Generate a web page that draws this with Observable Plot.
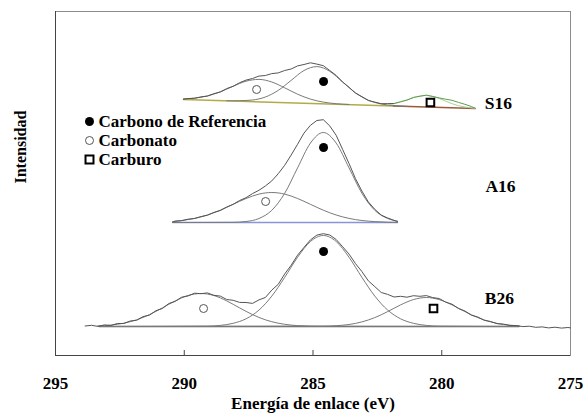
<!DOCTYPE html>
<html><head><meta charset="utf-8">
<script src="https://cdn.jsdelivr.net/npm/d3@7"></script>
<script src="https://cdn.jsdelivr.net/npm/@observablehq/plot@0.6"></script>
<style>body{margin:0;background:#fff}</style>
</head><body><div id="chart"></div>
<script>
// ---- axis / labels ----
const xDomain = [295, 275];
const yDomain = [0, 344];
const xTicks = [295, 290, 285, 280, 275];
const innerTicks = [290, 285, 280];
const xTitle = "Energía de enlace (eV)";
const yTitle = "Intensidad";
const legendLabels = ["Carbono de Referencia", "Carbonato", "Carburo"];
const samples = ["S16", "A16", "B26"];
const sampleLabelAt = [[277.8, 252], [277.72, 169], [277.76, 57]];

// ---- S16 ----
const s16Raw = [[290.03,256.3],[289.85,256.9],[289.6,257.2],[289.35,258.6],[289.1,259.4],[288.85,261.8],[288.6,263.5],[288.35,266.9],[288.1,269.2],[287.85,272.8],[287.6,275.4],[287.35,277.0],[287.1,279.4],[286.85,280.0],[286.6,281.9],[286.35,282.6],[286.1,285.0],[285.85,286.5],[285.6,289.6],[285.35,291.0],[285.1,292.7],[284.85,291.4],[284.6,289.8],[284.35,285.0],[284.1,280.1],[283.85,273.5],[283.6,268.2],[283.35,262.4],[283.1,258.8],[282.85,255.0],[282.6,253.4],[282.35,251.8],[282.1,251.9],[281.85,252.0]];
const s16RawCarbide = [[281.85,252.0],[281.6,253.8],[281.35,255.4],[281.1,258.1],[280.85,259.2],[280.6,260.4],[280.35,259.0],[280.1,257.6],[279.85,256.3],[279.6,255.2],[279.35,253.1],[279.1,251.2],[278.85,249.0],[278.7,247.2]];
const s16Carbonate = [[290.03,256.6],[289.6,257.4],[289.1,259.6],[288.6,263.7],[288.1,269.3],[287.6,274.3],[287.1,276.1],[286.6,273.5],[286.1,267.7],[285.6,261.3],[285.1,256.4],[284.6,253.4],[284.1,251.8],[283.6,251.0]];
const s16Ref = [[288.35,254.7],[287.85,254.8],[287.35,255.5],[286.85,258.5],[286.35,265.1],[285.85,275.1],[285.35,285.0],[284.85,288.9],[284.35,284.2],[283.85,273.5],[283.35,262.7],[282.85,255.3],[282.35,251.5],[281.85,249.9],[281.35,249.2]];
const s16Carbide = [[282.1,250.9],[281.85,251.8],[281.6,253.4],[281.35,255.6],[281.1,257.8],[280.85,259.5],[280.6,260],[280.35,259.1],[280.1,257],[279.85,254.4],[279.6,251.8],[279.35,249.8],[279.1,248.5],[278.85,247.6],[278.7,247]];
const s16BaseA = [[290.03,256],[281.87,249.5]];
const s16BaseB = [[281.87,249.5],[278.7,247]];

// ---- A16 ----
const a16Raw = [[290.45,133.6],[290.35,134.5],[290.1,134.8],[289.85,136.3],[289.6,137.0],[289.35,138.9],[289.1,140.3],[288.85,143.1],[288.6,145.0],[288.35,148.5],[288.1,151.2],[287.85,155.0],[287.6,157.8],[287.35,161.9],[287.1,165.2],[286.85,169.5],[286.6,174.6],[286.35,181.8],[286.1,190.2],[285.85,200.4],[285.6,211.2],[285.35,222.4],[285.1,230.2],[284.85,235.0],[284.6,235.8],[284.35,229.6],[284.1,220.2],[283.85,206.1],[283.6,191.9],[283.35,176.8],[283.1,164.4],[282.85,153.5],[282.6,146.2],[282.35,140.4],[282.1,137.5],[281.85,135.1],[281.72,134.0]];
const a16Ref = [[290.45,133],[288.1,133.2],[287.6,134],[287.1,137],[286.6,145.2],[286.1,162.2],[285.6,187.6],[285.1,212.4],[284.6,223],[284.1,212.4],[283.6,187.6],[283.1,162.2],[282.6,145.2],[282.1,137],[281.72,134.3]];
const a16Carbonate = [[290.45,133.6],[290.1,135],[289.6,137.1],[289.1,140.5],[288.6,145.3],[288.1,151.2],[287.6,157],[287.1,161.4],[286.6,163],[286.1,161.4],[285.6,157],[285.1,151.2],[284.6,145.3],[284.1,140.5],[283.6,137.1],[283.1,135],[282.6,133.9],[282.1,133.3],[281.72,133.1]];
const a16Base = [[290.45,133],[281.72,133]];

// ---- B26 ----
const b26Raw = [[293.85,29.5],[293.6,30.2],[293.35,29.1],[293.1,30.6],[292.85,30.0],[292.6,32.0],[292.35,32.0],[292.1,34.5],[291.85,35.2],[291.6,38.9],[291.35,40.4],[291.1,44.8],[290.85,47.0],[290.6,52.0],[290.35,54.1],[290.1,58.3],[289.85,59.6],[289.6,62.3],[289.35,61.8],[289.1,62.6],[288.85,60.2],[288.6,59.4],[288.35,56.0],[288.1,55.2],[287.85,53.1],[287.6,53.0],[287.35,52.1],[287.1,55.6],[286.85,58.0],[286.6,65.4],[286.35,71.2],[286.1,81.5],[285.85,90.2],[285.6,100.3],[285.35,108.1],[285.1,115.6],[284.85,120.4],[284.6,121.8],[284.35,120.5],[284.1,116.0],[283.85,108.8],[283.6,101.4],[283.35,91.9],[283.1,83.9],[282.85,74.6],[282.6,68.9],[282.35,63.0],[282.1,61.1],[281.85,58.5],[281.6,59.2],[281.35,58.3],[281.1,59.8],[280.85,59.2],[280.6,59.9],[280.35,57.9],[280.1,57.0],[279.85,53.4],[279.6,51.3],[279.35,47.0],[279.1,44.5],[278.85,40.3],[278.6,38.5],[278.35,35.2],[278.1,34.0],[277.85,31.8],[277.6,31.4],[277.35,30.0],[277.1,29.9],[276.85,28.9],[276.6,29.3],[276.35,28.2],[276.1,28.6],[275.85,27.6],[275.6,28.3],[275.35,27.4],[275.1,28.0],[275.0,27.6]];
const b26Ref = [[293.3,29],[289.1,29.35],[288.6,30.1],[288.1,32.2],[287.6,36.7],[287.1,45.4],[286.6,59.4],[286.1,78.1],[285.6,98.2],[285.1,114],[284.6,120],[284.1,114],[283.6,98.2],[283.1,78.1],[282.6,59.4],[282.1,45.4],[281.6,36.7],[281.1,32.2],[280.6,30.1],[280.1,29.35],[277.0,29]];
const b26Carbonate = [[293.35,29.6],[292.85,30.4],[292.35,32.3],[291.85,35.7],[291.35,40.9],[290.85,47.6],[290.35,54.6],[289.85,60],[289.35,62],[288.85,60],[288.35,54.6],[287.85,47.6],[287.35,40.9],[286.85,35.7],[286.35,32.3],[285.85,30.4],[285.35,29.6],[284.85,29.2],[277.0,29]];
const b26Carbide = [[293.3,29],[284.6,29.3],[284.1,29.8],[283.6,31],[283.1,33.6],[282.6,37.9],[282.1,43.9],[281.6,50.6],[281.1,55.9],[280.6,58],[280.1,55.9],[279.6,50.6],[279.1,43.9],[278.6,37.9],[278.1,33.6],[277.6,31],[277.1,29.8],[277.0,29.6]];
const b26Base = [[293.3,29],[277.0,29]];

// ---- peak markers ----
const refPeaks = [[284.59,274],[284.59,208],[284.59,104]];
const carbonatePeaks = [[287.19,266],[286.84,154],[289.25,47]];
const carbidePeaks = [[280.44,253],[280.32,47]];

// ---- build ----
const P = pts => pts.map(([e, v]) => ({e, v}));
const ln = (pts, stroke, w = 1, curve = "linear") =>
  Plot.line(P(pts), {x: "e", y: "v", stroke, strokeWidth: w, curve});

const rawC = "#555", compC = "#7a7a7a";
const marks = [
  Plot.frame({stroke: "#8c8c8c"}),
  Plot.ruleX([xDomain[0]], {stroke: "#444"}),
  Plot.ruleY([yDomain[0]], {stroke: "#444"}),
  Plot.ruleX(innerTicks, {y1: 0, y2: 5, stroke: "#444"}),
  Plot.axisX({ticks: xTicks, tickSize: 0, tickPadding: 21, fontSize: 17, label: null}),
  Plot.text([xTitle], {frameAnchor: "bottom", lineAnchor: "middle", dy: 48, fontSize: 17, text: d => d}),
  Plot.text([yTitle], {frameAnchor: "left", lineAnchor: "middle", dx: -35, rotate: -90, fontSize: 16, text: d => d}),

  // B26
  ln(b26Base, "#666", 1.4),
  ln(b26Carbonate, compC, 1, "monotone-x"),
  ln(b26Carbide, compC, 1, "monotone-x"),
  ln(b26Ref, compC, 1, "monotone-x"),
  ln(b26Raw, rawC, 1),
  // A16
  ln(a16Base, "#8796da", 1.6),
  ln(a16Carbonate, compC, 1, "monotone-x"),
  ln(a16Ref, compC, 1, "monotone-x"),
  ln(a16Raw, rawC, 1),
  // S16
  ln(s16BaseA, "#b0ac48", 1.6),
  ln(s16BaseB, "#9a5a3a", 1.6),
  ln(s16Carbonate, compC, 1, "monotone-x"),
  ln(s16Ref, compC, 1, "monotone-x"),
  ln(s16Carbide, "#a9cf98", 1, "monotone-x"),
  ln(s16Raw, rawC, 1),
  ln(s16RawCarbide, "#5f9c4f", 1),

  // markers
  Plot.dot(P(refPeaks), {x: "e", y: "v", r: 4.5, fill: "black", stroke: "none"}),
  Plot.dot(P(carbonatePeaks), {x: "e", y: "v", r: 4, fill: "white", stroke: "#555", strokeWidth: 1}),
  Plot.dot(P(carbidePeaks), {x: "e", y: "v", symbol: "square", r: 4.3, fill: "white", stroke: "black", strokeWidth: 2}),

  // sample labels
  Plot.text(samples.map((s, i) => ({s, e: sampleLabelAt[i][0], v: sampleLabelAt[i][1]})),
    {x: "e", y: "v", text: "s", fontSize: 17.5})
];

// legend
const legendSym = [
  {symbol: "circle", r: 4.5, fill: "black", stroke: "none", strokeWidth: 1},
  {symbol: "circle", r: 4, fill: "white", stroke: "#555", strokeWidth: 1},
  {symbol: "square", r: 4.5, fill: "white", stroke: "black", strokeWidth: 2}
];
legendLabels.forEach((t, i) => {
  marks.push(Plot.dot([t], {x: null, y: null, frameAnchor: "top-left", dx: 34, dy: 110 + i * 19, ...legendSym[i]}));
  marks.push(Plot.text([t], {frameAnchor: "top-left", lineAnchor: "middle", dx: 43, dy: 110 + i * 19, textAnchor: "start", fontSize: 17, text: d => d}));
});

const chart = Plot.plot({
  width: 585, height: 416,
  marginLeft: 55, marginRight: 15, marginTop: 11, marginBottom: 61,
  x: {domain: xDomain, label: null},
  y: {domain: yDomain, axis: null},
  style: {fontFamily: "'Liberation Serif', 'Times New Roman', serif", fontWeight: "bold", color: "black", background: "white"},
  marks
});
document.getElementById("chart").appendChild(chart);
</script>
</body></html>
